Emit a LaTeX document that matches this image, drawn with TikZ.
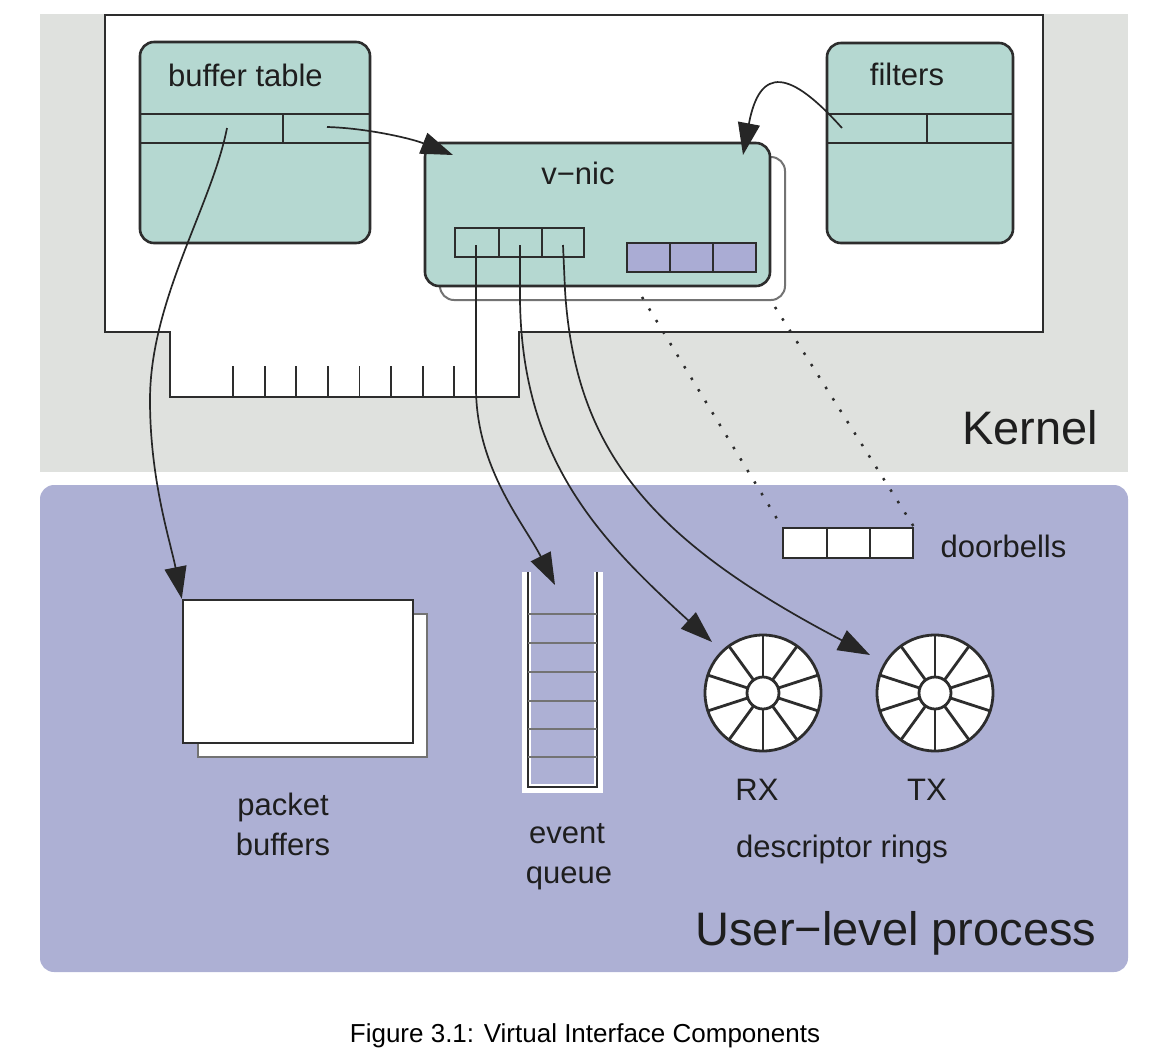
\documentclass[tikz,border=0pt]{standalone}
\usepackage{fontspec}
\setmainfont{Liberation Sans}
\usetikzlibrary{arrows.meta,calc}
\definecolor{vikernel}{RGB}{223,225,222}
\definecolor{viuser}{RGB}{173,176,212}
\definecolor{viteal}{RGB}{181,216,209}
\definecolor{vireg}{RGB}{170,172,212}
\definecolor{viline}{RGB}{45,45,45}
\definecolor{vigrey}{RGB}{115,115,115}
\definecolor{vitext}{RGB}{30,30,30}
\tikzset{
  vibox/.style={draw=viline, line width=1.3pt, rounded corners=7pt, fill=viteal, inner sep=0pt},
  vicell/.style={draw=viline, line width=1pt},
  vilbl/.style={font=\fontsize{15.5}{18}\selectfont, text=vitext, anchor=base, inner sep=0pt},
  vibig/.style={font=\fontsize{23.5}{28}\selectfont, text=vitext, anchor=base, inner sep=0pt},
  viarr/.style={-{Triangle[length=16pt, width=11pt]}, line width=.85pt, draw=black!85},
  vidot/.style={line width=1.25pt, dash pattern=on 1.25pt off 5.5pt, draw=viline},
  viring/.style={draw=viline, line width=1.4pt}
}

\begin{document}
\begin{tikzpicture}[x=.5pt, y=-.5pt]
  \useasboundingbox (0,0) rectangle (1158,1051);
  % the two layers
  \fill[vikernel] (40,14) rectangle (1128,472);
  \fill[viuser, rounded corners=7pt] (40,485) rectangle (1128,972);
  \draw[viline, line width=1.2pt, fill=white] (105,15) -- (1043,15) -- (1043,332) -- (519,332) -- (519,397) -- (170,397) -- (170,332) -- (105,332) -- cycle;
  \foreach \x in {233,264.6,...,455} \draw[viline, line width=.9pt] (\x,366) -- (\x,397);
  \node[vibig] (kernel) at (1030,444) {Kernel};
  \node[vibig] (user) at (896,945) {User−level process};

  % buffer table
  \node[vibox, minimum width=115pt, minimum height=100.5pt] (buftab) at (255,142.5) {};
  \draw[vicell] (140,114) -- (370,114) (140,143) -- (370,143) (283,114) -- (283,143);
  \node[vilbl] (buftablbl) at (245.5,86) {buffer table};
  \coordinate (btleft) at (227,128);
  \coordinate (btright) at (327,127);

  % filters
  \node[vibox, minimum width=93pt, minimum height=100pt] (filters) at (920,143) {};
  \draw[vicell] (827,114) -- (1013,114) (827,143) -- (1013,143) (927,114) -- (927,143);
  \node[vilbl] (filterslbl) at (907,85) {filters};
  \coordinate (flcell) at (842,128);

  % v-nic
  \draw[draw=vigrey, line width=1pt, fill=white, rounded corners=7pt] (440,157) rectangle (785,300);
  \node[vibox, minimum width=172.5pt, minimum height=71.5pt] (vnic) at (597.5,214.5) {};
  \node[vilbl] (vniclbl) at (578,184) {v−nic};
  \draw[vicell] (455,228) rectangle (584,257) (499,228) -- (499,257) (542,228) -- (542,257);
  \draw[vicell, fill=vireg] (627,243) rectangle (756,272) (670,243) -- (670,272) (713,243) -- (713,272);
  \coordinate (vq1) at (476,245);
  \coordinate (vq2) at (520,245);
  \coordinate (vq3) at (563,245);
  \coordinate (vdb1) at (642,297);
  \coordinate (vdb2) at (775,307);
  \coordinate (vnicbt) at (453,155);
  \coordinate (vnicfl) at (743,155);

  % doorbells
  \node[draw=viline, line width=1pt, fill=white, minimum width=65pt, minimum height=15pt, inner sep=0pt] (bells) at (848,543) {};
  \draw[vicell] (827,528) -- (827,558) (870,528) -- (870,558);
  \node[vilbl] (bellslbl) at (1003.5,557) {doorbells};

  % packet buffers
  \draw[draw=vigrey, line width=1.2pt, fill=white] (198,614) rectangle (427,757);
  \node[draw=viline, line width=1.2pt, fill=white, minimum width=115pt, minimum height=71.5pt, inner sep=0pt] (pkt) at (298,671.5) {};
  \node[vilbl] (pktlbl) at (283,815) {packet};
  \node[vilbl] (pktlbl2) at (283,855) {buffers};

  % event queue
  \draw[white, line width=4.5pt] (526,572) -- (526,788) -- (598,788) -- (598,572);
  \draw[viline, line width=1.3pt] (528,572) -- (528,787) -- (597,787) -- (597,572);
  \foreach \y in {614,643,672,701,729,757} \draw[vigrey, line width=1.2pt] (528,\y) -- (597,\y);
  \coordinate (evq) at (555,585);
  \node[vilbl] (evqlbl) at (567,843) {event};
  \node[vilbl] (evqlbl2) at (569,883) {queue};

  % descriptor rings
  \node[viring, circle, fill=white, minimum size=58pt, inner sep=0pt] (rx) at (763,693) {};
  \node[viring, circle, fill=white, minimum size=58pt, inner sep=0pt] (tx) at (935,693) {};
  \foreach \r in {rx,tx} {
    \draw[viring] (\r.center) circle (16);
    \foreach \a in {90,126,...,414} \draw[viring] ($(\r.center)+(\a:16)$) -- ($(\r.center)+(\a:57)$);
  }
  \coordinate (rxin) at (712,642);
  \coordinate (txin) at (870,655);
  \node[vilbl] (rxlbl) at (757,800) {RX};
  \node[vilbl] (txlbl) at (927,800) {TX};
  \node[vilbl] (ringlbl) at (842,857) {descriptor rings};

  % connectors
  \draw[viarr] (btright) .. controls (365,128) and (410,138) .. (vnicbt);
  \draw[viarr] (flcell) .. controls (790,70) and (760,65) .. (vnicfl);
  \draw[viarr] (btleft) .. controls (212,205) and (150,300) .. (150,400) .. controls (150,480) and (170,540) .. (pkt.north west);
  \draw[viarr] (vq1) -- (476,390) .. controls (477,470) and (525,525) .. (evq);
  \draw[viarr] (vq2) -- (520,300) .. controls (522,460) and (600,540) .. (rxin);
  \draw[viarr] (vq3) -- (565,290) .. controls (575,450) and (650,540) .. (txin);
  \draw[vidot] (vdb1) -- (bells.north west);
  \draw[vidot] (vdb2) -- (bells.north east);

  \node[font=\fontsize{13}{16}\selectfont, text=black, anchor=base, inner sep=0pt] (caption) at (585,1042) {Figure 3.1: Virtual Interface Components};
\end{tikzpicture}
\end{document}
